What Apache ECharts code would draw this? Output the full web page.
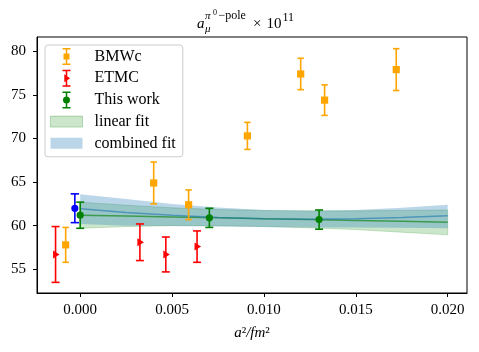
<!DOCTYPE html>
<html lang="en">
<head>
<meta charset="UTF-8">
<title>pi0 pole</title>
<script src="https://cdn.jsdelivr.net/npm/echarts@6/dist/echarts.min.js"></script>
<style>html,body{margin:0;padding:0;background:#fff}</style>
</head>
<body>
<div id="chart" style="width:479px;height:352px;"></div>
<script>
// rows are [a^2, value, error]
var bmwc = [[-0.00079, 57.8, 2.0], [0.0040, 64.9, 2.4], [0.0059, 62.4, 1.7], [0.0091, 70.3, 1.55],
            [0.0120, 77.4, 1.8], [0.0133, 74.4, 1.75], [0.0172, 77.9, 2.4]];
var etmc = [[-0.00134, 56.7, 3.2], [0.00325, 58.1, 2.1], [0.00466, 56.7, 2.0], [0.00636, 57.6, 1.8]];
var thisWork = [[0.0, 61.2, 1.5], [0.00703, 60.9, 1.1], [0.0130, 60.7, 1.1]];
var extrap = [[-0.00029, 62.0, 1.65]];

// fit bands
var fitX    = [0, 0.0025, 0.005, 0.0075, 0.01, 0.0125, 0.015, 0.0175, 0.02];
var linMid  = [61.2, 61.1, 61.0, 60.9, 60.8, 60.7, 60.6, 60.5, 60.4];
var linLo   = [59.7, 59.9, 60.0, 60.0, 59.9, 59.75, 59.55, 59.25, 58.95];
var linHi   = [62.7, 62.35, 62.05, 61.85, 61.75, 61.7, 61.7, 61.75, 61.8];
var combMid = [61.95, 61.5, 61.2, 60.95, 60.8, 60.75, 60.8, 60.95, 61.15];
var combLo  = [60.2, 60.0, 59.95, 59.9, 59.85, 59.8, 59.8, 59.75, 59.7];
var combHi  = [63.6, 63.05, 62.5, 62.1, 61.8, 61.7, 61.8, 62.05, 62.4];

var xTicks = [0, 0.005, 0.01, 0.015, 0.02];
var yTicks = [55, 60, 65, 70, 75, 80];

var FONT = '"Liberation Serif", "DejaVu Serif", serif';

function errorBars(name, data, color, marker, capW) {
    return {
        name: name, type: 'custom', data: data, z: 5,
        encode: {x: 0, y: 1},
        renderItem: function (params, api) {
            var x = api.value(0), y = api.value(1), e = api.value(2);
            var c = api.coord([x, y]), top = api.coord([x, y + e]), bot = api.coord([x, y - e]);
            var ls = {stroke: color, lineWidth: 1.6};
            var kids = [
                {type: 'line', shape: {x1: c[0], y1: top[1], x2: c[0], y2: bot[1]}, style: ls},
                {type: 'line', shape: {x1: c[0] - capW, y1: top[1], x2: c[0] + capW, y2: top[1]}, style: ls},
                {type: 'line', shape: {x1: c[0] - capW, y1: bot[1], x2: c[0] + capW, y2: bot[1]}, style: ls}
            ];
            if (marker === 'square') {
                kids.push({type: 'rect', shape: {x: c[0] - 3.6, y: c[1] - 3.6, width: 7.2, height: 7.2}, style: {fill: color}});
            } else if (marker === 'tri') {
                kids.push({type: 'polygon', shape: {points: [[c[0] - 2.5, c[1] - 4], [c[0] + 4, c[1]], [c[0] - 2.5, c[1] + 4]]}, style: {fill: color}});
            } else {
                kids.push({type: 'circle', shape: {cx: c[0], cy: c[1], r: 3.6}, style: {fill: color}});
            }
            return {type: 'group', children: kids};
        }
    };
}

function band(name, lo, hi, fill, stroke) {
    return {
        name: name, type: 'custom', z: 1, silent: true,
        data: fitX.map(function (x, i) { return [x, lo[i], hi[i]]; }),
        encode: {x: 0, y: [1, 2]},
        renderItem: function (params, api) {
            if (params.dataIndex !== 0) return;
            var pts = [], i;
            for (i = 0; i < fitX.length; i++) pts.push(api.coord([fitX[i], hi[i]]));
            for (i = fitX.length - 1; i >= 0; i--) pts.push(api.coord([fitX[i], lo[i]]));
            return {type: 'polygon', shape: {points: pts}, style: {fill: fill, stroke: stroke, lineWidth: 1}};
        }
    };
}

function midLine(mid, color) {
    return {
        type: 'line', z: 3, silent: true, showSymbol: false,
        data: fitX.map(function (x, i) { return [x, mid[i]]; }),
        lineStyle: {color: color, width: 1.5}
    };
}

function titleText(x, y, text, font) {
    return {type: 'text', x: x, y: y, style: {text: text, font: font, fill: '#000',
        textVerticalAlign: 'middle', verticalAlign: 'middle'}};
}

var BAR = 'M0 0H8V1.5H0Z M3.25 0H4.75V17H3.25Z M0 15.5H8V17H0Z ';
var legendIcons = {
    sq: 'path://' + BAR + 'M1 5.5H7V11.5H1Z',
    tri: 'path://' + BAR + 'M1.8 4.5L7.6 8.5L1.8 12.5Z',
    circ: 'path://' + BAR + 'M7.5 8.5A3.5 3.5 0 1 1 0.5 8.5A3.5 3.5 0 1 1 7.5 8.5Z',
    rect: 'path://M0 0H32V11H0Z'
};

var ct = echarts.init(document.getElementById('chart'));
var option = {
    animation: false,
    grid: {left: 37, right: 12, top: 37, bottom: 59, show: true, borderColor: '#000', borderWidth: 1},
    graphic: [
        titleText(197, 23.8, 'a', 'italic 15px ' + FONT),
        titleText(205, 16.2, 'π', 'italic 11px ' + FONT),
        titleText(213, 12.8, '0', '8px ' + FONT),
        titleText(218.5, 15.8, '−pole', '12px ' + FONT),
        titleText(205, 29.6, 'μ', 'italic 11px ' + FONT),
        titleText(253, 23.8, '×', '15px ' + FONT),
        titleText(266.5, 23.8, '10', '15px ' + FONT),
        titleText(282.5, 17.4, '11', '12px ' + FONT)
    ],
    legend: {
        orient: 'vertical', left: 45, top: 45,
        padding: [3, 7, 5, 5], itemWidth: 32, itemHeight: 17, itemGap: 4.7,
        backgroundColor: 'rgba(255,255,255,0.8)', borderColor: '#cccccc', borderWidth: 1, borderRadius: 3,
        selectedMode: false,
        textStyle: {fontFamily: FONT, fontSize: 16, color: '#000', lineHeight: 17, padding: [0, 0, 0, 7]},
        data: [
            {name: 'BMWc', icon: legendIcons.sq, itemStyle: {color: '#ffa500', borderWidth: 0}},
            {name: 'ETMC', icon: legendIcons.tri, itemStyle: {color: '#ff0000', borderWidth: 0}},
            {name: 'This work', icon: legendIcons.circ, itemStyle: {color: '#008000', borderWidth: 0}},
            {name: 'linear fit', icon: legendIcons.rect, itemStyle: {color: 'rgba(0,128,0,0.2)', borderColor: 'rgba(0,128,0,0.25)', borderWidth: 1}},
            {name: 'combined fit', icon: legendIcons.rect, itemStyle: {color: 'rgba(31,119,180,0.3)', borderWidth: 0}}
        ]
    },
    xAxis: {
        type: 'value', min: -0.00235, max: 0.02105,
        name: '{i|a}{n|²}{i|/fm}{n|²}', nameLocation: 'middle', nameGap: 33,
        nameTextStyle: {rich: {
            i: {fontFamily: FONT, fontStyle: 'italic', fontSize: 15, color: '#000'},
            n: {fontFamily: FONT, fontSize: 15, color: '#000'}
        }},
        axisLine: {show: true, onZero: false, lineStyle: {color: '#000', width: 1}},
        axisTick: {show: true, inside: false, length: 4, lineStyle: {color: '#000'}, customValues: xTicks},
        axisLabel: {customValues: xTicks, margin: 10, fontFamily: FONT, fontSize: 15, color: '#000',
            formatter: function (v) { return v.toFixed(3); }},
        splitLine: {show: false}
    },
    yAxis: {
        type: 'value', min: 52.28, max: 81.64,
        axisLine: {show: true, onZero: false, lineStyle: {color: '#000', width: 1}},
        axisTick: {show: true, inside: false, length: 4, lineStyle: {color: '#000'}, customValues: yTicks},
        axisLabel: {customValues: yTicks, margin: 11, fontFamily: FONT, fontSize: 15, color: '#000'},
        splitLine: {show: false}
    },
    series: [
        band('linear fit', linLo, linHi, 'rgba(0,128,0,0.2)', 'rgba(0,128,0,0.2)'),
        band('combined fit', combLo, combHi, 'rgba(31,119,180,0.3)', 'rgba(31,119,180,0)'),
        midLine(linMid, 'rgba(0,128,0,0.6)'),
        midLine(combMid, 'rgba(31,119,180,0.6)'),
        errorBars('BMWc', bmwc, '#ffa500', 'square', 3.2),
        errorBars('ETMC', etmc, '#ff0000', 'tri', 4),
        errorBars('This work', thisWork, '#008000', 'circle', 4),
        errorBars('extrapolation', extrap, '#0000ff', 'circle', 4.2)
    ]
};
ct.setOption(option);
</script>
</body>
</html>
